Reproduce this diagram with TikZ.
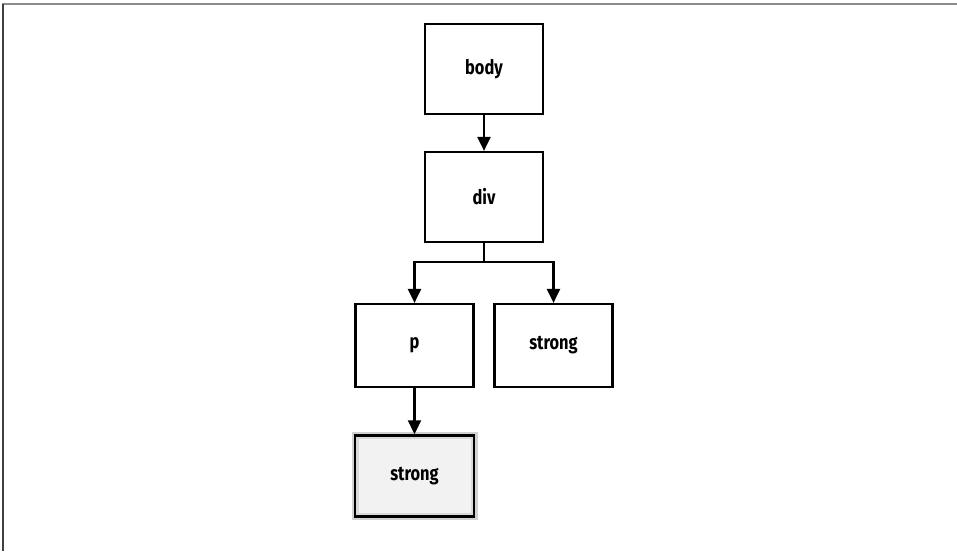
\documentclass[tikz,border=0pt]{standalone}
\usepackage{fontspec}
\setmainfont{Fira Sans}[FakeStretch=0.82]
\usetikzlibrary{arrows.meta}
\begin{document}
\begin{tikzpicture}[x=1pt,y=-1pt,
  tbox/.style={draw=black,line width=2.2pt,minimum width=118pt,minimum height=90pt,inner sep=0pt,font=\fontsize{20}{24}\selectfont\bfseries},
  tboxs/.style={tbox,minimum height=83pt},
  conn/.style={line width=2.2pt,-{Triangle[length=14pt,width=13pt]}}]
\useasboundingbox (0,0) rectangle (957,551);
\draw[line width=2pt,draw=gray!90] (2,4.5) -- (957,4.5);
\draw[line width=2pt,draw=black!75] (2.5,4) -- (2.5,551);
\node[tbox] (body) at (484,69) {body};
\node[tbox] (div) at (484,197) {div};
\node[tboxs] (p) at (414.5,345.5) {p};
\node[tboxs] (s1) at (553.5,345.5) {strong};
\node[tbox,minimum width=119pt,minimum height=81pt,fill=black!5,draw=black!18,line width=7pt] (s2bg) at (414.5,476) {};
\node[tbox,minimum width=116pt,minimum height=78pt,draw=black!15,line width=4pt] (s2in) at (414.5,476) {};
\node[tbox,minimum width=119pt,minimum height=81pt,line width=2.5pt] (s2) at (414.5,476) {strong};
\coordinate (j) at (484,262);
\draw[conn] (body) -- (div);
\draw[line width=2.2pt] (div.south) -- (j);
\draw[conn] (j) -| (p.north);
\draw[conn] (j) -| (s1.north);
\draw[conn] (p.south) -- (s2.north);
\end{tikzpicture}
\end{document}
